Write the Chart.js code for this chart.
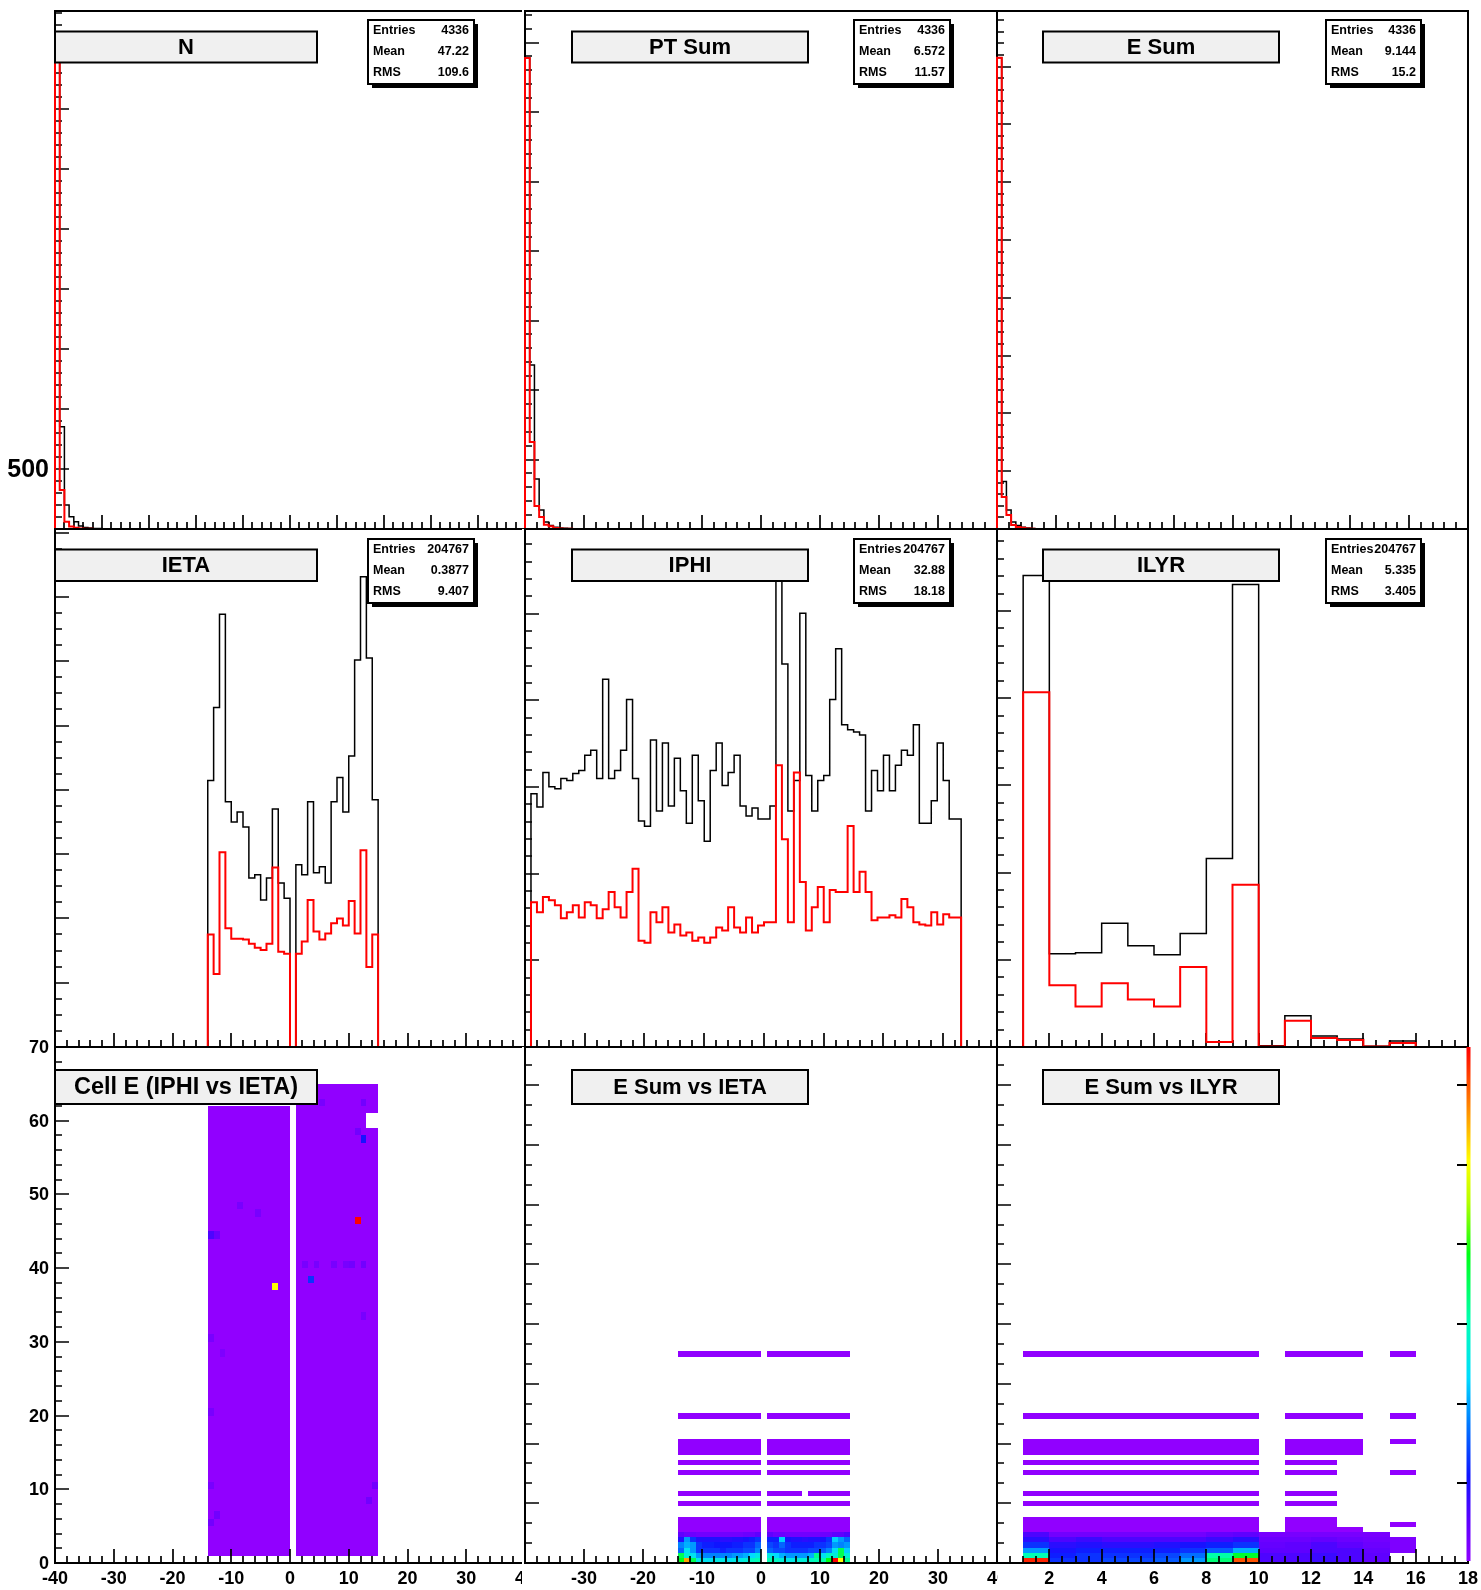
<!DOCTYPE html>
<html>
<head>
<meta charset="utf-8">
<script src="https://cdn.jsdelivr.net/npm/chart.js@4.4.0/dist/chart.umd.min.js"></script>
<style>
  html, body { margin: 0; padding: 0; background: #fff; }
  #page { position: relative; width: 1481px; height: 1590px; overflow: hidden; }
  #page canvas { position: absolute; left: 0; top: 0; }
</style>
</head>
<body>
<div id="page"></div>
<script>
// ---------------- data ----------------

// top row: per-event distributions (only the first bins are filled)
const nAll = [3925, 852, 200, 102, 60, 25, 12, 8, 5, 4, 3, 2, 2, 1, 1];
const nSel = [3925, 325, 61, 20, 10, 5, 3, 2, 1];
const ptAll = [3388, 1180, 360, 137, 50, 25, 12, 8, 5, 3, 2, 1];
const ptSel = [3388, 626, 165, 86, 30, 20, 8, 4, 2, 1];
const eAll = [4076, 411, 164, 60, 30, 15, 8, 5, 3, 2, 1];
const eSel = [4076, 277, 121, 35, 18, 10, 5, 3, 1];

// middle row: hits per IETA (-14..14), IPHI (1..72), ILYR (1..16)
const ietaAll = [8290, 10560, 13460, 7630, 7000, 7310, 6840, 5260, 5360, 4570, 5260, 7400, 5100, 4630, 0,
  5670, 5360, 7630, 5420, 5610, 5100, 7630, 8380, 7310, 9050, 12040, 14630, 12100, 7690];
const ietaSel = [3500, 2270, 6060, 3690, 3370, 3370, 3340, 3210, 3090, 3020, 3210, 5580, 2960, 2900, 0,
  2900, 3280, 4570, 3590, 3340, 3530, 3850, 4000, 3780, 4540, 3530, 6120, 2490, 3500];
const iphiAll = [2921, 2769, 3167, 3003, 2980, 3097, 3073, 3155, 3190, 3366, 3424, 3097, 4242, 3097, 3190, 3424,
  4009, 3097, 2606, 2547, 3541, 2723, 3506, 2781, 3331, 2956, 2582, 3366, 2840, 2372, 3190, 3506,
  3015, 3167, 3366, 2781, 2664, 2758, 2629, 2629, 2781, 5550, 4418, 2723, 3073, 5002, 3132, 2723,
  3073, 3132, 4009, 4593, 3716, 3658, 3634, 3599, 2723, 3190, 2956, 3366, 2956, 3249, 3424, 3366,
  3716, 2582, 2582, 2840, 3506, 3073, 2629, 2629];
const iphiSel = [1670, 1554, 1729, 1694, 1636, 1484, 1554, 1636, 1495, 1671, 1636, 1484, 1589, 1788, 1613, 1495,
  1788, 2057, 1227, 1203, 1554, 1438, 1613, 1320, 1413, 1285, 1320, 1227, 1262, 1203, 1262, 1378,
  1343, 1613, 1378, 1320, 1495, 1320, 1402, 1438, 1438, 3249, 2395, 1438, 3167, 1904, 1343, 1613,
  1847, 1438, 1812, 1788, 1788, 2548, 1788, 2022, 1788, 1461, 1495, 1495, 1520, 1495, 1706, 1613,
  1438, 1413, 1402, 1554, 1413, 1531, 1495, 1495];
const ilyrAll = [54070, 10690, 10800, 14180, 11620, 10570, 13010, 21620, 53030, 150, 3590, 1270, 920, 100, 690, 0];
const ilyrSel = [40690, 7080, 4640, 7310, 5450, 4640, 9180, 570, 18600, 60, 3020, 1035, 800, 50, 450, 0];

// stats boxes
const statNames = ["Entries", "Mean", "RMS"];
const statsN = ["4336", "47.22", "109.6"];
const statsPt = ["4336", "6.572", "11.57"];
const statsE = ["4336", "9.144", "15.2"];
const statsEta = ["204767", "0.3877", "9.407"];
const statsPhi = ["204767", "32.88", "18.18"];
const statsLyr = ["204767", "5.335", "3.405"];

// Cell E (IPHI vs IETA): two filled blocks, a few empty and a few hot cells
const cellEtaFrom = [-14, 1];
const cellEtaTo = [-1, 14];
const cellPhiTop = [61, 64];
const cellHoles = [[13, 59], [14, 59], [13, 60], [14, 60]];
const cellHot = [[11, 46, 1.0], [-3, 37, 0.78], [3, 38, 0.2], [12, 57, 0.16], [-14, 44, 0.1], [-13, 44, 0.06],
  [12, 62, 0.05], [11, 58, 0.05], [-14, 30, 0.04], [-14, 20, 0.04], [-14, 10, 0.04], [-14, 5, 0.05],
  [-13, 6, 0.05], [-9, 48, 0.04], [-12, 28, 0.03], [5, 62, 0.04], [2, 40, 0.04], [4, 40, 0.04],
  [7, 40, 0.04], [9, 40, 0.04], [10, 40, 0.05], [12, 40, 0.05], [13, 8, 0.05], [14, 10, 0.05],
  [12, 33, 0.04], [-6, 47, 0.04]];

// E Sum vs IETA: energy-bin rows (bin width eBin), purple bands and colour levels of the lowest rows
const eBin = 0.864;
const eSumEtaBins = [-14, -13, -12, -11, -10, -9, -8, -7, -6, -5, -4, -3, -2, -1, 1, 2, 3, 4, 5, 6, 7, 8, 9, 10, 11, 12, 13, 14];
const eSumBandRows = [6, 7, 8, 11, 13, 17, 19, 21, 22, 23, 28, 40];
const eSumBandGaps = [[13, 7]];
const eSumLowLevels = [
  [0.6, 0.86, 0.55, 0.4, 0.38, 0.38, 0.4, 0.4, 0.38, 0.4, 0.4, 0.42, 0.45, 0.47, 0.47, 0.45, 0.42, 0.4, 0.4, 0.42, 0.42, 0.45, 0.47, 0.48, 0.6, 1.0, 0.78, 0.5],
  [0.55, 0.42, 0.38, 0.3, 0.28, 0.28, 0.28, 0.28, 0.28, 0.3, 0.3, 0.32, 0.36, 0.4, 0.4, 0.36, 0.32, 0.3, 0.3, 0.3, 0.3, 0.32, 0.5, 0.38, 0.45, 0.42, 0.55, 0.42],
  [0.25, 0.38, 0.3, 0.2, 0.2, 0.2, 0.2, 0.18, 0.2, 0.2, 0.2, 0.22, 0.22, 0.28, 0.25, 0.22, 0.22, 0.2, 0.2, 0.2, 0.2, 0.22, 0.22, 0.24, 0.28, 0.38, 0.55, 0.35],
  [0.28, 0.32, 0.3, 0.2, 0.18, 0.18, 0.17, 0.17, 0.17, 0.18, 0.18, 0.2, 0.2, 0.25, 0.22, 0.2, 0.25, 0.2, 0.18, 0.18, 0.18, 0.18, 0.2, 0.2, 0.22, 0.3, 0.28, 0.3],
  [0.15, 0.3, 0.2, 0.15, 0.15, 0.15, 0.15, 0.14, 0.14, 0.15, 0.15, 0.16, 0.18, 0.2, 0.18, 0.18, 0.35, 0.16, 0.15, 0.15, 0.14, 0.15, 0.15, 0.16, 0.2, 0.35, 0.3, 0.25],
  [0.08, 0.06, 0.06, 0.05, 0.05, 0.05, 0.05, 0.05, 0.05, 0.05, 0.05, 0.06, 0.06, 0.08, 0.08, 0.06, 0.06, 0.05, 0.05, 0.05, 0.05, 0.05, 0.05, 0.06, 0.06, 0.08, 0.08, 0.1],
];

// E Sum vs ILYR
const layerMain = [1, 2, 3, 4, 5, 6, 7, 8, 9];
const layerTail = [10, 11, 12, 13, 14, 15];
const layerBandRows = [6, 7, 8, 11, 13, 17, 19, 21, 22, 23, 28, 40];
const layerBandExtra = [[11, 12, 13], [11, 12, 15], [11, 12], [11, 12], [11, 12], [11, 12, 15],
  [11, 12], [11, 12, 13], [11, 12, 13], [11, 12, 13, 15], [11, 12, 13, 15], [11, 12, 13, 15]];
const layerLowLevels = [
  [0.97, 0.2, 0.2, 0.22, 0.22, 0.24, 0.3, 0.52, 0.93],
  [0.47, 0.18, 0.2, 0.2, 0.2, 0.22, 0.26, 0.48, 0.58],
  [0.3, 0.16, 0.18, 0.18, 0.18, 0.18, 0.2, 0.24, 0.32],
  [0.2, 0.14, 0.15, 0.14, 0.14, 0.15, 0.16, 0.18, 0.2],
  [0.14, 0.1, 0.12, 0.1, 0.1, 0.1, 0.1, 0.12, 0.14],
  [0.1, 0.05, 0.05, 0.05, 0.05, 0.05, 0.05, 0.07, 0.08],
];
const layerTailLevels = [
  [0.1, 0.1, 0.12, 0.1, 0.08, null],
  [0.1, 0.1, 0.12, 0.1, 0.08, null],
  [0.08, 0.08, 0.1, 0.1, 0.07, 0.03],
  [0.07, 0.08, 0.1, 0.08, 0.06, 0.03],
  [0.06, 0.06, 0.07, 0.06, 0.05, 0.03],
  [0.04, 0.04, 0.04, 0.04, 0.04, null],
];

// tick labels
const countTicks = [500];
const etaTicks = [-40, -30, -20, -10, 0, 10, 20, 30, 40];
const phiTicks = [0, 10, 20, 30, 40, 50, 60, 70];
const layerTicks = [2, 4, 6, 8, 10, 12, 14, 16, 18];
const zTicks = [1, 2, 3, 4, 5, 6];
const zMax = 6.48;

// ---------------- layout ----------------
const W = 1481;
const H = 1590;
const colEdges = [55, 525, 997, 1468];
const rowEdges = [11, 529, 1047, 1563];
const colFill = [0, 522, 998, 1481];
const rowFill = [0, 529, 1047, 1590];
const titleCols = [[55, 317], [572, 808], [1043, 1279]];
const titleRows = [[31.5, 62.5], [549.5, 581], [1070, 1104]];
const statCols = [[368, 474], [854, 950], [1326, 1421]];
const statRows = [[20, 84], [539, 603]];
const FONT = "'Liberation Sans', Arial, Helvetica, sans-serif";

const paletteStops = [0, 0.08, 0.17, 0.27, 0.36, 0.47, 0.6, 0.7, 0.78, 0.88, 1];
const paletteRGB = [[145, 0, 255], [95, 0, 255], [15, 20, 255], [0, 120, 255], [0, 220, 255], [0, 255, 180],
  [0, 255, 20], [180, 255, 0], [255, 255, 0], [255, 140, 0], [255, 0, 0]];

function paletteColor(t) {
  t = Math.max(0, Math.min(1, t));
  let k = 1;
  while (k < paletteStops.length - 1 && t > paletteStops[k]) k++;
  const f = (t - paletteStops[k - 1]) / (paletteStops[k] - paletteStops[k - 1]);
  const a = paletteRGB[k - 1];
  const b = paletteRGB[k];
  const c = [0, 1, 2].map((j) => Math.round(a[j] + (b[j] - a[j]) * f));
  return "rgb(" + c.join(",") + ")";
}

// histogram outline as a polyline through the bin edges
function histLine(lo, width, values, xmin, xmax, color, lw) {
  const pts = [{ x: xmin, y: 0 }, { x: lo, y: 0 }];
  for (let i = 0; i < values.length; i++) {
    pts.push({ x: lo + i * width, y: values[i] });
    pts.push({ x: lo + (i + 1) * width, y: values[i] });
  }
  pts.push({ x: lo + values.length * width, y: 0 });
  pts.push({ x: xmax, y: 0 });
  return {
    data: pts,
    borderColor: color,
    borderWidth: lw,
    pointRadius: 0,
    tension: 0,
    fill: false,
    clip: false,
    borderJoinStyle: "miter",
    borderCapStyle: "butt",
  };
}

function tickList(min, max, step, nsub) {
  const minor = step / nsub;
  const out = [];
  const k0 = Math.ceil(min / minor - 1e-6);
  const k1 = Math.floor(max / minor + 1e-6);
  for (let k = k0; k <= k1; k++) {
    out.push([k * minor, ((k % nsub) + nsub) % nsub === 0]);
  }
  return out;
}

function drawFrame(chart, p) {
  const ctx = chart.ctx;
  const a = chart.chartArea;
  const xs = chart.scales.x;
  const ys = chart.scales.y;
  ctx.save();
  ctx.strokeStyle = "#000";
  ctx.lineWidth = 2;
  ctx.strokeRect(a.left, a.top, a.right - a.left, a.bottom - a.top);
  ctx.lineWidth = 1.7;
  ctx.beginPath();
  tickList(p.x[0], p.x[1], p.xStep, p.xSub).forEach(([v, major]) => {
    const px = Math.round(xs.getPixelForValue(v));
    ctx.moveTo(px, a.bottom);
    ctx.lineTo(px, a.bottom - (major ? 14 : 7));
  });
  tickList(p.y[0], p.y[1], p.yStep, p.ySub).forEach(([v, major]) => {
    const py = Math.round(ys.getPixelForValue(v));
    ctx.moveTo(a.left, py);
    ctx.lineTo(a.left + (major ? 14 : 7), py);
  });
  ctx.stroke();
  ctx.restore();
}

function drawCells(chart, p) {
  const ctx = chart.ctx;
  const xs = chart.scales.x;
  const ys = chart.scales.y;
  chart.data.datasets[0].data.forEach((d) => {
    const x0 = Math.round(xs.getPixelForValue(d.x));
    const x1 = Math.round(xs.getPixelForValue(d.x + p.cellW));
    const y0 = Math.round(ys.getPixelForValue(d.y + p.cellH));
    const y1 = Math.round(ys.getPixelForValue(d.y));
    ctx.fillStyle = paletteColor(d.v);
    ctx.fillRect(x0, y0, x1 - x0, y1 - y0);
  });
}

function drawLabels(chart, p) {
  const ctx = chart.ctx;
  const a = chart.chartArea;
  ctx.save();
  ctx.fillStyle = "#000";
  if (p.xLabels) {
    ctx.font = "bold 18px " + FONT;
    ctx.textAlign = "center";
    ctx.textBaseline = "alphabetic";
    p.xLabels.forEach((v) => {
      ctx.fillText(String(v), chart.scales.x.getPixelForValue(v), a.bottom + 21);
    });
  }
  if (p.yLabels) {
    ctx.font = "bold " + p.yLabelSize + "px " + FONT;
    ctx.textAlign = "right";
    ctx.textBaseline = "middle";
    p.yLabels.forEach((v) => {
      ctx.fillText(String(v), a.left - 6, chart.scales.y.getPixelForValue(v) + 1);
    });
  }
  ctx.restore();
}

function drawTitle(ctx, t) {
  const [x0, x1] = titleCols[t.col];
  const [y0, y1] = titleRows[t.row];
  ctx.save();
  ctx.fillStyle = "#f0f0f0";
  ctx.fillRect(x0, y0, x1 - x0, y1 - y0);
  ctx.strokeStyle = "#000";
  ctx.lineWidth = 2;
  ctx.strokeRect(x0, y0, x1 - x0, y1 - y0);
  ctx.fillStyle = "#000";
  ctx.font = "bold " + t.size + "px " + FONT;
  ctx.textAlign = "center";
  ctx.textBaseline = "middle";
  ctx.fillText(t.text, (x0 + x1) / 2, (y0 + y1) / 2 + 1);
  ctx.restore();
}

function drawStats(ctx, s) {
  const [x0, x1] = statCols[s.col];
  const [y0, y1] = statRows[s.row];
  ctx.save();
  ctx.fillStyle = "#000";
  ctx.fillRect(x0 + 4, y0 + 4, x1 - x0, y1 - y0);
  ctx.fillStyle = "#fff";
  ctx.fillRect(x0, y0, x1 - x0, y1 - y0);
  ctx.strokeStyle = "#000";
  ctx.lineWidth = 2;
  ctx.strokeRect(x0, y0, x1 - x0, y1 - y0);
  ctx.fillStyle = "#000";
  ctx.font = "bold 12.5px " + FONT;
  ctx.textBaseline = "middle";
  statNames.forEach((name, k) => {
    const ty = y0 + 11 + k * 21;
    ctx.textAlign = "left";
    ctx.fillText(name, x0 + 5, ty);
    ctx.textAlign = "right";
    ctx.fillText(s.values[k], x1 - 5, ty);
  });
  ctx.restore();
}

function drawPalette(chart) {
  const ctx = chart.ctx;
  const a = chart.chartArea;
  const hgt = a.bottom - a.top;
  ctx.save();
  for (let yy = Math.floor(a.top); yy < a.bottom - 2; yy++) {
    ctx.fillStyle = paletteColor((a.bottom - yy) / hgt);
    ctx.fillRect(a.right - 1.5, yy, 4, 1);
  }
  ctx.strokeStyle = "#000";
  ctx.lineWidth = 2;
  ctx.beginPath();
  zTicks.forEach((v) => {
    const py = Math.round(a.bottom - (v / zMax) * hgt);
    ctx.moveTo(a.right - 1, py);
    ctx.lineTo(a.right - 11, py);
  });
  ctx.stroke();
  ctx.restore();
}

function padPlugin(p) {
  return {
    id: "rootPad",
    beforeDraw(chart) {
      const ctx = chart.ctx;
      ctx.save();
      ctx.fillStyle = "#fff";
      ctx.fillRect(p.fill[0], p.fill[1], p.fill[2] - p.fill[0], p.fill[3] - p.fill[1]);
      ctx.restore();
    },
    beforeDatasetsDraw(chart) {
      if (p.cellW) drawCells(chart, p);
      drawFrame(chart, p);
    },
    afterDraw(chart) {
      const ctx = chart.ctx;
      if (p.palette) drawPalette(chart);
      drawLabels(chart, p);
      if (p.title) drawTitle(ctx, p.title);
      if (p.stats) drawStats(ctx, p.stats);
    },
  };
}

const page = document.getElementById("page");

function padChart(index, type, datasets, p) {
  const c = index % 3;
  const r = Math.floor(index / 3);
  p.fill = [colFill[c], rowFill[r], colFill[c + 1], rowFill[r + 1]];
  const cv = document.createElement("canvas");
  cv.width = W;
  cv.height = H;
  page.appendChild(cv);
  return new Chart(cv, {
    type: type,
    data: { datasets: datasets },
    options: {
      responsive: false,
      animation: false,
      devicePixelRatio: 1,
      events: [],
      layout: {
        padding: { left: colEdges[c], right: W - colEdges[c + 1], top: rowEdges[r], bottom: H - rowEdges[r + 1] },
      },
      scales: {
        x: { type: "linear", min: p.x[0], max: p.x[1], display: false },
        y: { type: "linear", min: p.y[0], max: p.y[1], display: false },
      },
      plugins: { legend: { display: false }, tooltip: { enabled: false } },
    },
    plugins: [padPlugin(p)],
  });
}

function hist1D(index, lo, width, all, sel, p) {
  return padChart(index, "line", [
    histLine(lo, width, sel, p.x[0], p.x[1], "#ff0000", 2),
    histLine(lo, width, all, p.x[0], p.x[1], "#000000", 1.5),
  ], p);
}

// ---------------- cells of the 2D pads ----------------
let cellPts = [];
for (let b = 0; b < cellEtaFrom.length; b++) {
  for (let eta = cellEtaFrom[b]; eta <= cellEtaTo[b]; eta++) {
    for (let phi = 1; phi <= cellPhiTop[b]; phi++) {
      if (cellHoles.some((h) => h[0] === eta && h[1] === phi)) continue;
      const hot = cellHot.find((h) => h[0] === eta && h[1] === phi);
      cellPts.push({ x: eta, y: phi, v: hot ? hot[2] : 0 });
    }
  }
}

let etaPts = [];
eSumBandRows.forEach((row) => {
  eSumEtaBins.forEach((eta) => {
    if (eSumBandGaps.some((g) => g[0] === row && g[1] === eta)) return;
    etaPts.push({ x: eta, y: row * eBin, v: 0 });
  });
});
eSumLowLevels.forEach((levels, row) => {
  levels.forEach((lv, i) => etaPts.push({ x: eSumEtaBins[i], y: row * eBin, v: lv }));
});

let lyrPts = [];
layerBandRows.forEach((row, k) => {
  layerMain.concat(layerBandExtra[k]).forEach((l) => lyrPts.push({ x: l, y: row * eBin, v: 0 }));
});
layerLowLevels.forEach((levels, row) => {
  levels.forEach((lv, i) => lyrPts.push({ x: layerMain[i], y: row * eBin, v: lv }));
});
layerTailLevels.forEach((levels, row) => {
  levels.forEach((lv, i) => {
    if (lv !== null) lyrPts.push({ x: layerTail[i], y: row * eBin, v: lv });
  });
});

function cellSet(pts) {
  return [{ data: pts, pointRadius: 0, showLine: false }];
}

// ---------------- the nine pads ----------------
hist1D(0, 0, 10, nAll, nSel, {
  x: [0, 1000], xStep: 100, xSub: 5, y: [0, 4317], yStep: 500, ySub: 5,
  yLabels: countTicks, yLabelSize: 25,
  title: { text: "N", col: 0, row: 0, size: 22 }, stats: { col: 0, row: 0, values: statsN },
});
hist1D(1, 0, 4, ptAll, ptSel, {
  x: [0, 400], xStep: 50, xSub: 5, y: [0, 3727], yStep: 500, ySub: 5,
  title: { text: "PT Sum", col: 1, row: 0, size: 22 }, stats: { col: 1, row: 0, values: statsPt },
});
hist1D(2, 0, 4, eAll, eSel, {
  x: [0, 400], xStep: 50, xSub: 5, y: [0, 4481], yStep: 500, ySub: 5,
  title: { text: "E Sum", col: 2, row: 0, size: 22 }, stats: { col: 2, row: 0, values: statsE },
});
hist1D(3, -14, 1, ietaAll, ietaSel, {
  x: [-40, 40], xStep: 10, xSub: 5, y: [0, 16112], yStep: 2000, ySub: 4,
  title: { text: "IETA", col: 0, row: 1, size: 22 }, stats: { col: 0, row: 1, values: statsEta },
});
hist1D(4, 1, 1, iphiAll, iphiSel, {
  x: [0, 79], xStep: 10, xSub: 5, y: [0, 5975], yStep: 1000, ySub: 5,
  title: { text: "IPHI", col: 1, row: 1, size: 22 }, stats: { col: 1, row: 1, values: statsPhi },
});
hist1D(5, 1, 1, ilyrAll, ilyrSel, {
  x: [0, 18], xStep: 2, xSub: 4, y: [0, 59400], yStep: 10000, ySub: 5,
  title: { text: "ILYR", col: 2, row: 1, size: 22 }, stats: { col: 2, row: 1, values: statsLyr },
});
padChart(6, "scatter", cellSet(cellPts), {
  x: [-40, 40], xStep: 10, xSub: 5, y: [0, 70], yStep: 10, ySub: 5, cellW: 1, cellH: 1,
  xLabels: etaTicks, yLabels: phiTicks, yLabelSize: 18,
  title: { text: "Cell E (IPHI vs IETA)", col: 0, row: 2, size: 23.5 },
});
padChart(7, "scatter", cellSet(etaPts), {
  x: [-40, 40], xStep: 10, xSub: 5, y: [0, 100 * eBin], yStep: 10, ySub: 3, cellW: 1, cellH: eBin,
  xLabels: etaTicks.slice(1),
  title: { text: "E Sum vs IETA", col: 1, row: 2, size: 22 },
});
padChart(8, "scatter", cellSet(lyrPts), {
  x: [0, 18], xStep: 2, xSub: 4, y: [0, 100 * eBin], yStep: 10, ySub: 3, cellW: 1, cellH: eBin,
  xLabels: layerTicks, palette: true,
  title: { text: "E Sum vs ILYR", col: 2, row: 2, size: 22 },
});
</script>
</body>
</html>
